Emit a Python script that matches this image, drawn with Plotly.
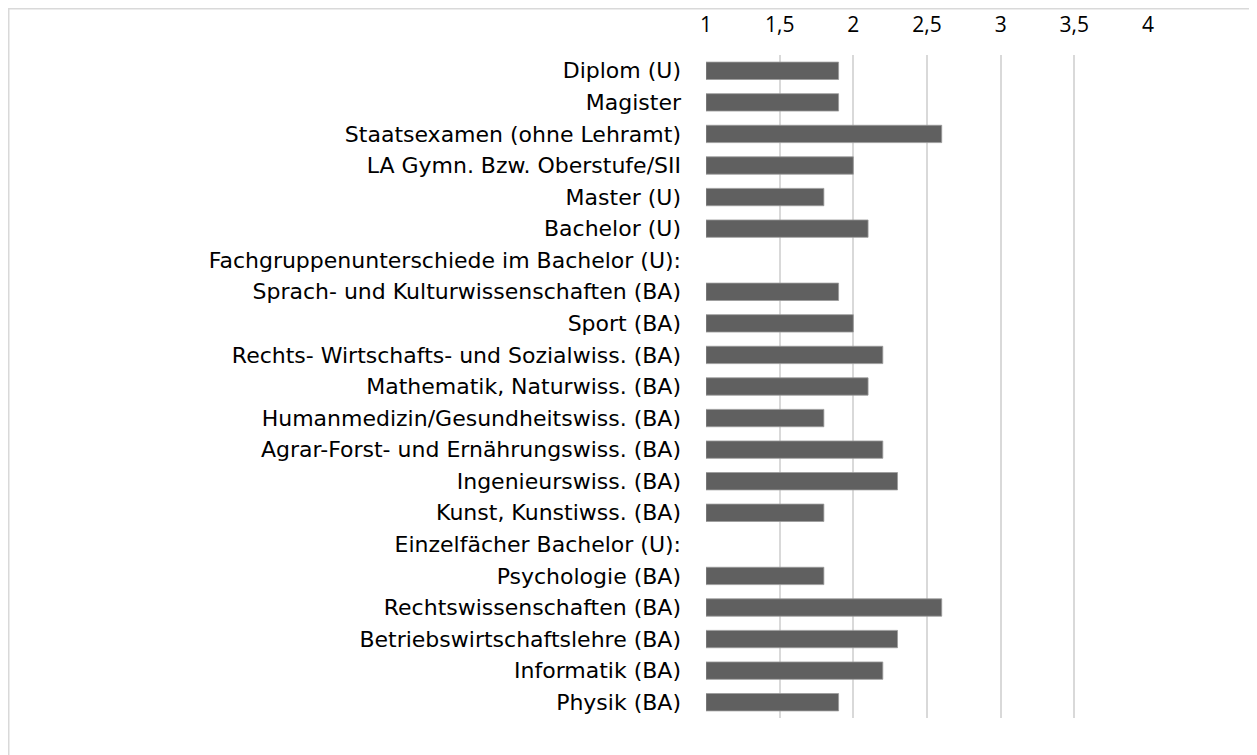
import plotly.graph_objects as go

categories = [
    "Diplom (U)",
    "Magister",
    "Staatsexamen (ohne Lehramt)",
    "LA Gymn. Bzw. Oberstufe/SII",
    "Master (U)",
    "Bachelor (U)",
    "Fachgruppenunterschiede im Bachelor (U):",
    "Sprach- und Kulturwissenschaften (BA)",
    "Sport (BA)",
    "Rechts- Wirtschafts- und Sozialwiss. (BA)",
    "Mathematik, Naturwiss. (BA)",
    "Humanmedizin/Gesundheitswiss. (BA)",
    "Agrar-Forst- und Ernährungswiss. (BA)",
    "Ingenieurswiss. (BA)",
    "Kunst, Kunstiwss. (BA)",
    "Einzelfächer Bachelor (U):",
    "Psychologie (BA)",
    "Rechtswissenschaften (BA)",
    "Betriebswirtschaftslehre (BA)",
    "Informatik (BA)",
    "Physik (BA)",
]
values = [1.9, 1.9, 2.6, 2.0, 1.8, 2.1, None, 1.9, 2.0, 2.2, 2.1, 1.8, 2.2, 2.3, 1.8,
          None, 1.8, 2.6, 2.3, 2.2, 1.9]
base_value = 1
tick_vals = [1, 1.5, 2, 2.5, 3, 3.5, 4]
tick_text = ["1", "1,5", "2", "2,5", "3", "3,5", "4"]

lengths = [None if v is None else v - base_value for v in values]

fig = go.Figure(go.Bar(
    y=categories,
    x=lengths,
    base=base_value,
    orientation="h",
    marker=dict(color="#606060", line=dict(color="#9a9a9a", width=0.8)),
    hoverinfo="skip",
))

W, H = 1257, 755
# page body has an 8px offset
L, R, T, B = 698, 1140, 47, 710

fig.update_layout(
    width=W, height=H,
    margin=dict(l=L, r=W - R, t=T, b=H - B, autoexpand=False),
    paper_bgcolor="white", plot_bgcolor="white",
    font=dict(family="'DejaVu Sans', sans-serif", size=22, color="#000000"),
    bargap=0.45,
    showlegend=False,
    xaxis=dict(
        side="top", range=[1, 4], tickvals=tick_vals, ticktext=tick_text,
        showgrid=True, gridcolor="#d9d9d9", gridwidth=1.5,
        zeroline=False, showline=False, ticks="", ticklabelstandoff=18,
        tickfont=dict(family="'Open Sans', sans-serif", size=21), automargin=False,
    ),
    yaxis=dict(
        autorange="reversed", showgrid=False, zeroline=False, showline=False,
        ticks="", ticklabelstandoff=24, tickfont=dict(size=22), automargin=False,
    ),
    shapes=[dict(
        type="rect", xref="paper", yref="paper",
        x0=(0.5 - L) / (R - L), x1=(1270 - L) / (R - L),
        y0=(B - 770) / (B - T), y1=(B - 0.5) / (B - T),
        line=dict(color="#d9d9d9", width=2), fillcolor="rgba(0,0,0,0)", layer="below",
    )],
)

fig.write_html("out.html")
